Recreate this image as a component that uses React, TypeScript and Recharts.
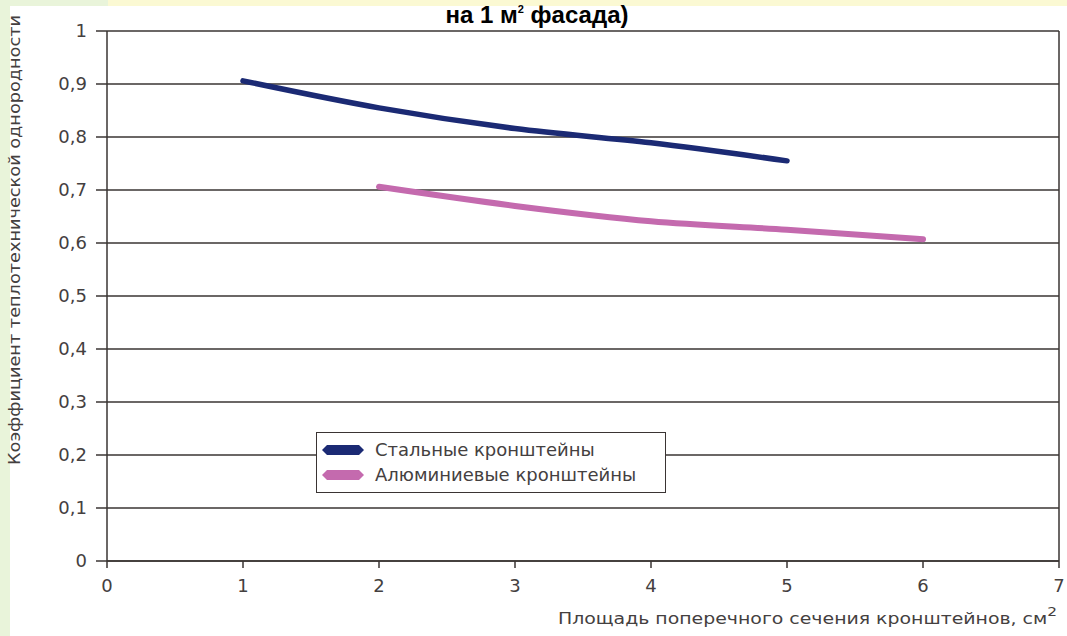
import React from 'react'
import { LineChart, Line, XAxis, YAxis, CartesianGrid, ReferenceLine, Label } from 'recharts'

// площадь сечения, см2
const steelX = [1, 2, 3, 4, 5]
const aluX = [2, 3, 4, 5, 6]

// коэффициент теплотехнической однородности
const steelValues = [0.906, 0.855, 0.816, 0.789, 0.755]
const aluValues = [0.706, 0.67, 0.641, 0.625, 0.607]

const seriesNames = ['Стальные кронштейны', 'Алюминиевые кронштейны']

const xTicks = [0, 1, 2, 3, 4, 5, 6, 7]
const yTicks = [0, 0.1, 0.2, 0.3, 0.4, 0.5, 0.6, 0.7, 0.8, 0.9, 1]

const steelData = steelX.map((x, i) => ({ x, y: steelValues[i] }))
const aluData = aluX.map((x, i) => ({ x, y: aluValues[i] }))

const INK = '#3a3433'
const TEXT = '#444040'
const FONT = '"DejaVu Sans", "Open Sans", sans-serif'
const STEEL = '#1b2a74'
const ALU = '#c46aae'
const seriesColors = [STEEL, ALU]

const fmt = (v: number) => (v === 0 || v === 1 ? String(v) : v.toFixed(1).replace('.', ','))

function LegendBox() {
  return (
    <div
      style={{
        position: 'absolute',
        left: 316,
        top: 432,
        width: 350,
        height: 61,
        boxSizing: 'border-box',
        border: `1.5px solid ${INK}`,
        background: '#fff',
        padding: '4px 0 0 5px',
        fontFamily: FONT,
        fontSize: 18,
        color: TEXT,
      }}
    >
      {seriesNames.map((name, i) => (
        <div key={name} style={{ display: 'flex', alignItems: 'center', height: 25 }}>
          <svg width={42} height={12} style={{ marginRight: 11 }}>
            <polygon points="0,6 5,1 37,1 42,6 37,11 5,11" fill={seriesColors[i]} />
          </svg>
          <span>{name}</span>
        </div>
      ))}
    </div>
  )
}

function YTitle() {
  return (
    <text
      x={15}
      y={240}
      transform="rotate(-90 15 240)"
      textAnchor="middle"
      dominantBaseline="central"
      fontFamily={FONT}
      fontSize={15}
      fill={TEXT}
      textLength={450}
      lengthAdjust="spacingAndGlyphs"
    >
      Коэффициент теплотехнической однородности
    </text>
  )
}

function XTitle() {
  return (
    <text
      x={558}
      y={624}
      fontFamily={FONT}
      fontSize={16}
      fill={TEXT}
      textLength={499}
      lengthAdjust="spacingAndGlyphs"
    >
      Площадь поперечного сечения кронштейнов, см
      <tspan dy={-8} fontSize={13}>2</tspan>
    </text>
  )
}

export default function App() {
  return (
    <div style={{ position: 'absolute', left: 0, top: 0, width: 1067, height: 636, background: '#fff', overflow: 'hidden' }}>
      {/* фоновые полосы слайда */}
      <div style={{ position: 'absolute', left: 0, top: 0, width: 108, height: 6, background: '#e9f4da' }} />
      <div style={{ position: 'absolute', left: 0, top: 0, width: 10, height: 636, background: '#e9f4da' }} />
      <div style={{ position: 'absolute', left: 108, top: 0, width: 959, height: 6, background: '#fbf9d3' }} />
      <svg width={1067} height={30} style={{ position: 'absolute', left: 0, top: 0 }}>
        <text
          x={537}
          y={23}
          textAnchor="middle"
          fontFamily='"Liberation Sans", Arial, sans-serif'
          fontWeight="bold"
          fontSize={24}
          fill="#000"
        >
          на 1 м<tspan dy={-10} fontSize={11}>2</tspan>
          <tspan dy={10}> фасада)</tspan>
        </text>
      </svg>
      <div style={{ position: 'absolute', left: 0, top: 0 }}>
        <LineChart width={1067} height={636} margin={{ top: 31, right: 8, left: 0, bottom: 0 }}>
          <CartesianGrid vertical={false} stroke={INK} strokeWidth={1.5} strokeOpacity={1} />
          <XAxis
            type="number"
            dataKey="x"
            domain={[0, 7]}
            ticks={xTicks}
            height={75}
            axisLine={{ stroke: INK, strokeWidth: 1.5 }}
            tickLine={{ stroke: INK, strokeWidth: 1.5 }}
            tickSize={7}
            tickMargin={11}
            tick={{ fill: TEXT, fontSize: 18, fontFamily: FONT }}
            interval={0}
          >
            <Label content={<XTitle />} />
          </XAxis>
          <YAxis
            type="number"
            domain={[0, 1]}
            ticks={yTicks}
            width={107}
            tickFormatter={fmt}
            axisLine={{ stroke: INK, strokeWidth: 1.5 }}
            tickLine={{ stroke: INK, strokeWidth: 1.5 }}
            tickSize={11}
            tickMargin={9}
            tick={{ fill: TEXT, fontSize: 18, fontFamily: FONT }}
            interval={0}
          >
            <Label content={<YTitle />} />
          </YAxis>
          <ReferenceLine x={7} stroke={INK} strokeWidth={1.5} />
          <Line
            data={steelData}
            dataKey="y"
            name={seriesNames[0]}
            type="monotone"
            stroke={STEEL}
            strokeWidth={5.5}
            strokeLinecap="round"
            dot={false}
            activeDot={false}
            isAnimationActive={false}
          />
          <Line
            data={aluData}
            dataKey="y"
            name={seriesNames[1]}
            type="monotone"
            stroke={ALU}
            strokeWidth={6}
            strokeLinecap="round"
            dot={false}
            activeDot={false}
            isAnimationActive={false}
          />
        </LineChart>
      </div>
      <LegendBox />
    </div>
  )
}
